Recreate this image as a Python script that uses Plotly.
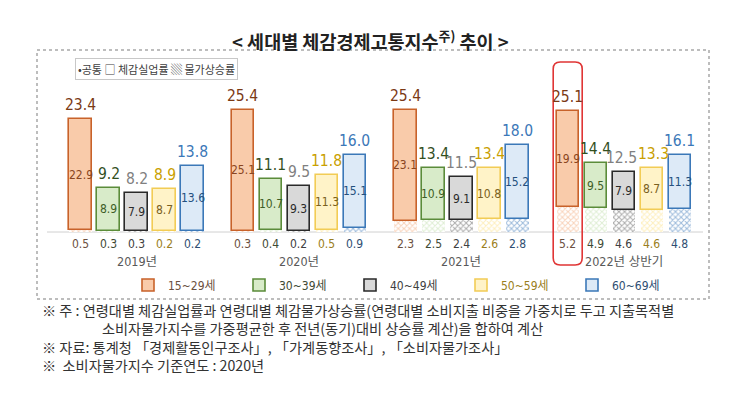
import plotly.graph_objects as go

years = ["2019년", "2020년", "2021년", "2022년 상반기"]
ages = ["15~29세", "30~39세", "40~49세", "50~59세", "60~69세"]

# 체감실업률 (top segment)
unemp = {
    "15~29세": [22.9, 25.1, 23.1, 19.9],
    "30~39세": [8.9, 10.7, 10.9, 9.5],
    "40~49세": [7.9, 9.3, 9.1, 7.9],
    "50~59세": [8.7, 11.3, 10.8, 8.7],
    "60~69세": [13.6, 15.1, 15.2, 11.3],
}
# 물가상승률 (bottom hatched segment)
price = {
    "15~29세": [0.5, 0.3, 2.3, 5.2],
    "30~39세": [0.3, 0.4, 2.5, 4.9],
    "40~49세": [0.3, 0.2, 2.4, 4.6],
    "50~59세": [0.2, 0.5, 2.6, 4.6],
    "60~69세": [0.2, 0.9, 2.8, 4.8],
}
# 체감경제고통지수 (total)
total = {
    "15~29세": [23.4, 25.4, 25.4, 25.1],
    "30~39세": [9.2, 11.1, 13.4, 14.4],
    "40~49세": [8.2, 9.5, 11.5, 12.5],
    "50~59세": [8.9, 11.8, 13.4, 13.3],
    "60~69세": [13.8, 16.0, 18.0, 16.1],
}

notes = [
    "※ 주 : 연령대별 체감실업률과 연령대별 체감물가상승률(연령대별 소비지출 비중을 가중치로 두고 지출목적별",
    "\u3000\u3000\u3000\u3000 소비자물가지수를 가중평균한 후 전년(동기)대비 상승률 계산)을 합하여 계산",
    "※ 자료: 통계청 「경제활동인구조사」, 「가계동향조사」, 「소비자물가조사」",
    "※  소비자물가지수 기준연도 : 2020년",
]

styles = {
    "15~29세": dict(fill="#F9CBAA", line="#C8622A", tot="#7B3A14", inner="#8A4520", hatch="#F2A97A", plab="#6B5040"),
    "30~39세": dict(fill="#D8EBC9", line="#5B8C3A", tot="#33501E", inner="#3D5E27", hatch="#BFDDAA", plab="#3E4A35"),
    "40~49세": dict(fill="#D9D9D9", line="#2A2A2A", tot="#808080", inner="#2A2A2A", hatch="#5A5A5A", plab="#404040"),
    "50~59세": dict(fill="#FFF3C8", line="#F2CC55", tot="#C9A000", inner="#7A6020", hatch="#FCDF80", plab="#9A7E20"),
    "60~69세": dict(fill="#DDEAF7", line="#3B78B8", tot="#3B78B8", inner="#24507E", hatch="#3B78B8", plab="#2E4E72"),
}
# small horizontal nudges (px) of crowded total labels: (age, year index) -> shift
label_nudge = {("40~49세", 3): -2, ("50~59세", 3): 2}

NUM_FONT = "DejaVu Sans Condensed, Roboto Condensed, Liberation Sans Narrow, Roboto"
KR_FONT = "Noto Sans CJK KR"
W, H = 746, 397
OFF = 8  # page offset of the figure in the browser


def px(x):
    return (x - OFF) / W


def py(y):
    return 1 - (y - OFF) / H


GSTEP = 5.8


def xpos(g, i):
    return g * GSTEP + i


fig = go.Figure()
annotations = []

for i, a in enumerate(ages):
    s = styles[a]
    xs = [xpos(g, i) for g in range(len(years))]
    fig.add_trace(go.Bar(
        x=xs, y=price[a], base=0, width=0.8, showlegend=False,
        marker=dict(color="white", line=dict(width=0),
                    pattern=dict(shape="x", fgcolor=s["hatch"], bgcolor="white", size=4, solidity=0.45)),
        hoverinfo="skip",
    ))
    fig.add_trace(go.Bar(
        x=xs, y=unemp[a], base=price[a], width=0.8,
        name=f"<span style='color:{s['plab']}'>{a}</span>",
        marker=dict(color=s["fill"], line=dict(color=s["line"], width=1.6)),
    ))
    for g in range(len(years)):
        x = xs[g]
        annotations.append(dict(x=x, y=total[a][g], xref="x", yref="y", text=f"{total[a][g]:.1f}",
                                showarrow=False, yanchor="bottom", yshift=3,
                                xshift=label_nudge.get((a, g), 0),
                                font=dict(family=NUM_FONT, size=15.5, color=s["tot"])))
        annotations.append(dict(x=x, y=price[a][g] + unemp[a][g] / 2, xref="x", yref="y",
                                text=f"{unemp[a][g]:.1f}", showarrow=False,
                                font=dict(family=NUM_FONT, size=12, color=s["inner"])))
        annotations.append(dict(x=x, y=0, xref="x", yref="y", text=f"{price[a][g]:.1f}",
                                showarrow=False, yanchor="top", yshift=-3,
                                font=dict(family=NUM_FONT, size=12, color=s["plab"])))

for g, yname in enumerate(years):
    annotations.append(dict(x=xpos(g, 2), y=0, xref="x", yref="y", text=yname, showarrow=False,
                            yanchor="top", yshift=-20,
                            font=dict(family=NUM_FONT + ", " + KR_FONT, size=12.5, color="#595959")))

# title
annotations.append(dict(x=px(370), y=py(40), xref="paper", yref="paper", xanchor="center", yanchor="middle",
                        text="<b>< 세대별 체감경제고통지수<sup>주)</sup> 추이 ></b>", showarrow=False,
                        font=dict(family=KR_FONT, size=18.5, color="#222222")))
# top small legend
annotations.append(dict(x=px(156), y=py(68.5), xref="paper", yref="paper", xanchor="center", yanchor="middle",
                        text="•공통 □ 체감실업률 ▒ 물가상승률", showarrow=False,
                        bordercolor="#C8C8C8", borderwidth=1, borderpad=2, bgcolor="white",
                        font=dict(family=KR_FONT, size=11, color="#404040")))

# footnotes (one block, 4 lines)
annotations.append(dict(x=px(40), y=py(337), xref="paper", yref="paper", text="<br>".join(notes),
                        showarrow=False, xanchor="left", yanchor="middle", align="left",
                        font=dict(family=KR_FONT, size=14.2, color="#333333")))

r = 7
x0, x1, y0, y1 = -14.5, 14.5, -33, 170
red_path = (f"M {x0+r},{y0} L {x1-r},{y0} Q {x1},{y0} {x1},{y0+r} L {x1},{y1-r} Q {x1},{y1} {x1-r},{y1} "
            f"L {x0+r},{y1} Q {x0},{y1} {x0},{y1-r} L {x0},{y0+r} Q {x0},{y0} {x0+r},{y0} Z")

shapes = [
    dict(type="rect", xref="paper", yref="paper", x0=px(37), x1=px(709), y0=py(299), y1=py(50),
         line=dict(color="#A8A8A8", width=1.5, dash="dot"), layer="below"),
    dict(type="line", xref="paper", yref="y", x0=px(47), x1=px(703), y0=0, y1=0,
         line=dict(color="#D0D0D0", width=1), layer="below"),
    dict(type="path", xref="x", yref="y", xsizemode="pixel", ysizemode="pixel",
         xanchor=xpos(3, 0), yanchor=0, path=red_path,
         line=dict(color="#E03535", width=1.6)),
]

# axis ranges: screen px = 80.5 + 28*u ; baseline at screen y 232, 4.81 px per unit
fig.update_layout(
    width=W, height=H, margin=dict(l=0, r=0, t=0, b=0),
    paper_bgcolor="white", plot_bgcolor="white",
    barmode="overlay", bargap=0,
    xaxis=dict(visible=False, range=[(OFF - 80.5) / 28, (W + OFF - 80.5) / 28], fixedrange=True),
    yaxis=dict(visible=False, range=[-(H + OFF - 232) / 4.81, (232 - OFF) / 4.81], fixedrange=True),
    annotations=annotations, shapes=shapes,
    showlegend=True,
    legend=dict(orientation="h", x=px(128), y=py(285), xanchor="left", yanchor="middle",
                entrywidthmode="pixels", entrywidth=66, traceorder="normal",
                font=dict(family=NUM_FONT + ", " + KR_FONT, size=12, color="#555555"),
                bgcolor="rgba(0,0,0,0)", itemwidth=30),
)

fig.write_html("out.html")
